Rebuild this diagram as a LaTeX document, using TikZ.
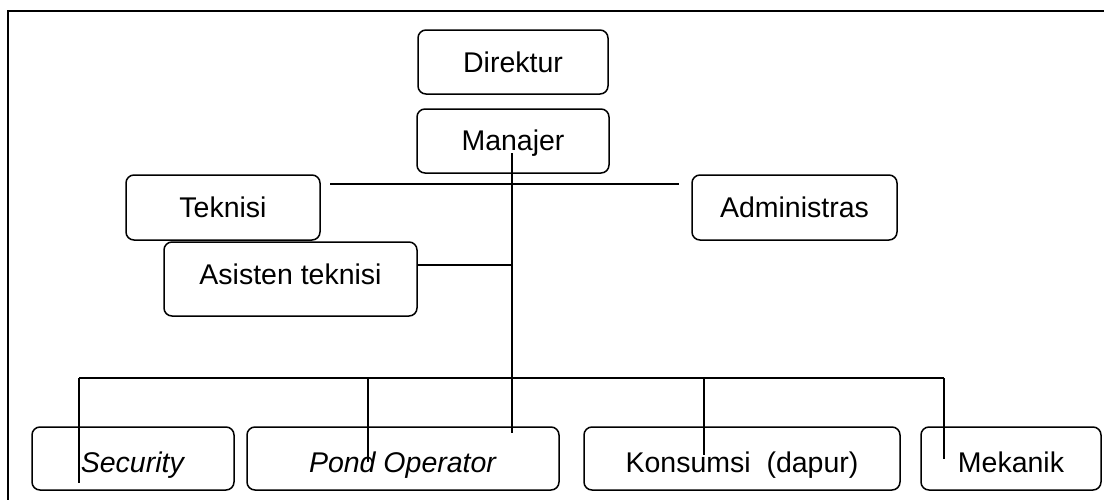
\documentclass[tikz,border=0pt]{standalone}
\usepackage{fontspec}
\setmainfont{Liberation Sans}
\begin{document}
\begin{tikzpicture}[x=1pt,y=-1pt]
  \useasboundingbox (0,0) rectangle (1104,499);
  \draw[line width=2.5pt] (8,530) -- (8,11) -- (1130,11);
  \begin{scope}[every node/.style={draw,line width=1.5pt,rounded corners=8pt,inner sep=0pt,minimum height=64pt,font=\fontsize{28.5}{34}\selectfont}]
  \node[minimum width=190pt] (a) at (513,62) {Direktur};
  \node[minimum width=192pt,text depth=2pt] (b) at (513,141) {Manajer};
  \node[minimum width=194pt,minimum height=65pt] (c) at (223,207.5) {Teknisi};
  \node[minimum width=205pt,minimum height=65pt] (d) at (794.5,207.5) {Administras};
  \node[minimum width=253pt,minimum height=74pt,text height=20pt,text depth=10pt] (e) at (290.5,279) {Asisten teknisi};
  \end{scope}
  \begin{scope}[every node/.style={draw,line width=1.5pt,rounded corners=8pt,inner sep=0pt,minimum height=63pt,text height=30pt,text depth=2pt,font=\fontsize{28.5}{34}\selectfont}]
  \node[minimum width=202pt] (f) at (133,458.5) {\textit{Security}};
  \node[minimum width=312pt] (g) at (403,458.5) {\textit{Pond Operator}};
  \node[minimum width=316pt] (h) at (742,458.5) {Konsumsi\ \ (dapur)};
  \node[minimum width=180pt] (i) at (1011,458.5) {Mekanik};
  \end{scope}
  % free ends of the lines
  \coordinate (t1) at (330,184);
  \coordinate (t2) at (679,184);
  \coordinate (v1) at (512,153);
  \coordinate (v2) at (512,433);
  \coordinate (v3) at (512,265);
  \coordinate (s1) at (79,378);
  \coordinate (s2) at (368,378);
  \coordinate (s3) at (704,378);
  \coordinate (s4) at (944,378);
  \coordinate (f1) at (79,483);
  \coordinate (g1) at (368,462);
  \coordinate (h1) at (704,455);
  \coordinate (i1) at (944,459);
  \begin{scope}[every edge/.style={draw=black,line width=1.3pt}]
  \path (t1) edge[line width=2pt] (t2);
  \path (v1) edge (v2);
  \path (e.east |- v3) edge (v3);
  \path (s1) edge[line width=2pt] (s4);
  \path (s1) edge (f1);
  \path (s2) edge (g1);
  \path (s3) edge (h1);
  \path (s4) edge (i1);
  \end{scope}
\end{tikzpicture}
\end{document}
